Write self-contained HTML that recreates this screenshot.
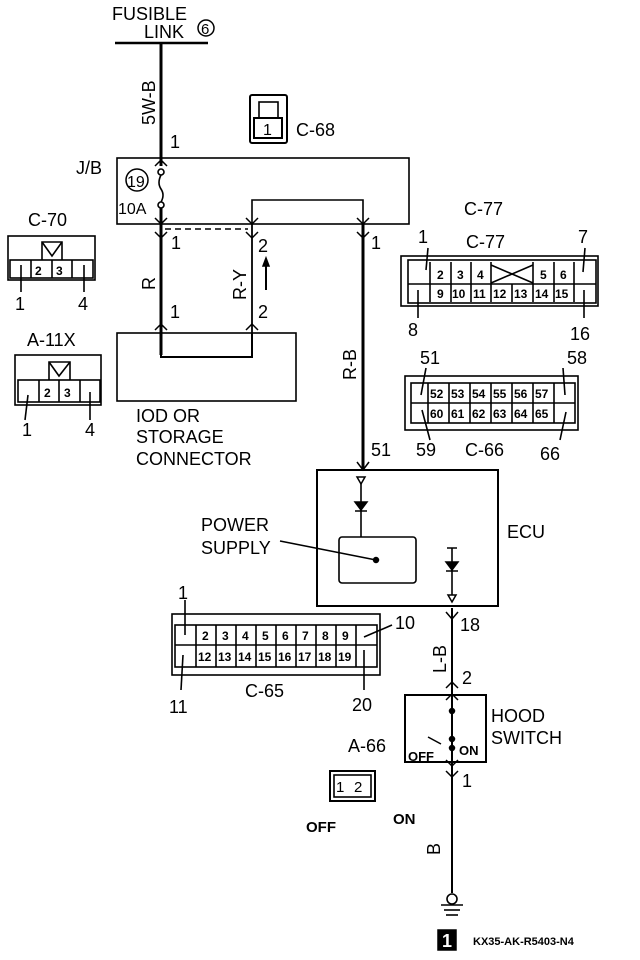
<!DOCTYPE html>
<html><head><meta charset="utf-8"><style>
html,body{margin:0;padding:0;background:#fff}
svg{display:block}
text{font-family:"Liberation Sans",sans-serif;fill:#000}
.l{font-size:18px}
.s{font-size:12px;font-weight:bold}
.b{font-weight:bold}
</style></head><body>
<svg width="640" height="960" viewBox="0 0 640 960" xmlns="http://www.w3.org/2000/svg">
<g fill="none" stroke="#000" stroke-width="1.6">
<line x1="115" y1="43" x2="208" y2="43" stroke-width="2.5"/>
<line x1="161" y1="43" x2="161" y2="166" stroke-width="3"/>
<rect x="117" y="158" width="292" height="66"/>
<circle cx="161" cy="172" r="3"/>
<circle cx="161" cy="205" r="3"/>
<path d="M161 175 q-4 8 0 14 q4 6 0 13"/>
<polyline points="252,224 252,200 363,200 363,224"/>
<line x1="161" y1="208" x2="161" y2="355" stroke-width="3"/>
<line x1="252" y1="224" x2="252" y2="355" stroke-width="1.8"/>
<line x1="363" y1="224" x2="363" y2="470" stroke-width="3"/>
<path d="M165 229 H248" stroke-dasharray="6,4"/>
<line x1="266" y1="290" x2="266" y2="260" stroke-width="2"/>
<rect x="117" y="333" width="179" height="68"/>
<polyline points="161,333 161,357 252,357 252,333" stroke-width="2"/>
<rect x="317" y="470" width="181" height="136" stroke-width="2"/>
<rect x="339" y="537" width="77" height="46" rx="3"/>
<line x1="361" y1="478" x2="361" y2="537"/>
<line x1="452" y1="548" x2="452" y2="598"/>
<line x1="280" y1="541" x2="376" y2="560"/>
<line x1="452" y1="608" x2="452" y2="893" stroke-width="2"/>
<rect x="405" y="695" width="81" height="67" stroke-width="2"/>
<circle cx="452" cy="899" r="5"/>
<line x1="441" y1="905" x2="463" y2="905"/>
<line x1="444" y1="910" x2="460" y2="910"/>
<line x1="446" y1="915" x2="458" y2="915"/>
<rect x="250" y="95" width="37" height="48" rx="2" stroke-width="2"/>
<rect x="259" y="102" width="19" height="16"/>
<rect x="254" y="118" width="28" height="20" stroke-width="2"/>
<rect x="8" y="236" width="87" height="44"/>
<rect x="10" y="260" width="83" height="18"/>
<line x1="31" y1="260" x2="31" y2="278"/><line x1="52" y1="260" x2="52" y2="278"/><line x1="72" y1="260" x2="72" y2="278"/>
<polyline points="42,260 42,242 62,242 62,260"/><path d="M42 242 L52 256 L62 242"/>
<line x1="21" y1="265" x2="21" y2="292"/><line x1="84" y1="265" x2="84" y2="292"/>
<rect x="15" y="355" width="86" height="50"/>
<rect x="18" y="380" width="82" height="22"/>
<line x1="39" y1="380" x2="39" y2="402"/><line x1="59" y1="380" x2="59" y2="402"/><line x1="80" y1="380" x2="80" y2="402"/>
<polyline points="49,380 49,362 70,362 70,380"/><path d="M49 362 L59 376 L70 362"/>
<line x1="28" y1="395" x2="25" y2="420"/><line x1="90" y1="392" x2="90" y2="420"/>
<rect x="401" y="256" width="197" height="50"/>
<rect x="408" y="260" width="188" height="43"/>
<line x1="408" y1="284" x2="596" y2="284"/>
<line x1="430" y1="262" x2="430" y2="302"/><line x1="451" y1="262" x2="451" y2="302"/><line x1="471" y1="262" x2="471" y2="302"/><line x1="491" y1="262" x2="491" y2="302"/><line x1="512" y1="284" x2="512" y2="302"/><line x1="533" y1="262" x2="533" y2="302"/><line x1="554" y1="262" x2="554" y2="302"/><line x1="574" y1="262" x2="574" y2="302"/>
<path d="M491 265 L533 283 M491 283 L533 265"/>
<line x1="418" y1="290" x2="418" y2="318"/><line x1="584" y1="290" x2="584" y2="318"/>
<line x1="426" y1="270" x2="428" y2="248"/><line x1="583" y1="272" x2="585" y2="248"/>
<rect x="405" y="376" width="173" height="54"/>
<rect x="411" y="383" width="164" height="40"/>
<line x1="411" y1="403" x2="575" y2="403"/>
<line x1="428" y1="383" x2="428" y2="423"/><line x1="449" y1="383" x2="449" y2="423"/><line x1="470" y1="383" x2="470" y2="423"/><line x1="491" y1="383" x2="491" y2="423"/><line x1="512" y1="383" x2="512" y2="423"/><line x1="533" y1="383" x2="533" y2="423"/><line x1="554" y1="383" x2="554" y2="423"/>
<line x1="421" y1="395" x2="426" y2="368"/><line x1="565" y1="395" x2="563" y2="368"/>
<line x1="422" y1="410" x2="430" y2="440"/><line x1="566" y1="412" x2="560" y2="440"/>
<rect x="172" y="614" width="208" height="61"/>
<rect x="175" y="625" width="202" height="42"/>
<line x1="175" y1="645" x2="377" y2="645"/>
<line x1="196" y1="625" x2="196" y2="667"/><line x1="216" y1="625" x2="216" y2="667"/><line x1="236" y1="625" x2="236" y2="667"/><line x1="256" y1="625" x2="256" y2="667"/><line x1="276" y1="625" x2="276" y2="667"/><line x1="296" y1="625" x2="296" y2="667"/><line x1="316" y1="625" x2="316" y2="667"/><line x1="336" y1="625" x2="336" y2="667"/><line x1="356" y1="625" x2="356" y2="667"/>
<line x1="185" y1="600" x2="185" y2="635"/><line x1="183" y1="655" x2="181" y2="690"/>
<line x1="364" y1="637" x2="392" y2="625"/><line x1="364" y1="650" x2="364" y2="690"/>
<rect x="330" y="771" width="45" height="30" stroke-width="2"/>
<rect x="334" y="775" width="37" height="22"/>
</g>
<g fill="#000" stroke="#000" stroke-width="1.5">
<path d="M155 166 L161 160 L167 166" fill="none"/>
<path d="M155 218 L161 224 L167 218 M246 218 L252 224 L258 218 M357 218 L363 224 L369 218 M155 232 L161 238 L167 232 M246 232 L252 238 L258 232 M357 232 L363 238 L369 232" fill="none"/>
<path d="M155 330 L161 324 L167 330 M246 330 L252 324 L258 330" fill="none"/>
<path d="M266 258 L263 266 L269 266 Z"/>
<path d="M357 462 L363 470 L369 462" fill="none"/>
<path d="M357 477 L365 477 L361 484 Z" fill="#fff"/>
<path d="M355 502 L367 502 L361 510 Z"/><line x1="355" y1="511" x2="367" y2="511"/>
<line x1="447" y1="548" x2="457" y2="548"/>
<path d="M446 562 L458 562 L452 570 Z"/><line x1="446" y1="571" x2="458" y2="571"/>
<path d="M448 595 L456 595 L452 602 Z" fill="#fff"/>
<path d="M446 612 L452 619 L458 612" fill="none"/>
<path d="M446 688 L452 682 L458 688 M446 700 L452 694 L458 700 M446 760 L452 766 L458 760 M446 771 L452 777 L458 771" fill="none"/>
<circle cx="452" cy="711" r="2.5"/><circle cx="452" cy="739" r="2.5"/><circle cx="452" cy="748" r="2.5"/>
<line x1="428" y1="737" x2="441" y2="744"/>
<circle cx="376" cy="560" r="2.5"/>
<rect x="438" y="930" width="18" height="20"/>
</g>
<text x="112" y="20" class="l">FUSIBLE</text>
<text x="144" y="38" class="l">LINK</text>
<circle cx="206" cy="28" r="8" fill="none" stroke="#000" stroke-width="1.5"/><text x="201" y="34" font-size="15">6</text>
<text x="155" y="125" class="l" transform="rotate(-90 155 125)">5W-B</text>
<text x="170" y="148" class="l">1</text>
<text x="263" y="135" font-size="16">1</text>
<text x="296" y="136" class="l">C-68</text>
<text x="76" y="174" class="l">J/B</text>
<circle cx="137" cy="180" r="11" fill="none" stroke="#000" stroke-width="1.5"/><text x="127" y="187" font-size="16">19</text>
<text x="118" y="214" font-size="16">10A</text>
<text x="171" y="249" class="l">1</text>
<text x="258" y="252" class="l">2</text>
<text x="371" y="249" class="l">1</text>
<text x="155" y="290" class="l" transform="rotate(-90 155 290)">R</text>
<text x="246" y="300" class="l" transform="rotate(-90 246 300)">R-Y</text>
<text x="170" y="318" class="l">1</text>
<text x="258" y="318" class="l">2</text>
<text x="356" y="380" class="l" transform="rotate(-90 356 380)">R-B</text>
<text x="136" y="422" class="l">IOD OR</text>
<text x="136" y="443" class="l">STORAGE</text>
<text x="136" y="465" class="l">CONNECTOR</text>
<text x="371" y="456" class="l">51</text>
<text x="28" y="226" class="l">C-70</text>
<text x="35" y="275" class="s">2</text><text x="56" y="275" class="s">3</text>
<text x="15" y="310" class="l">1</text><text x="78" y="310" class="l">4</text>
<text x="27" y="346" class="l">A-11X</text>
<text x="44" y="397" class="s">2</text><text x="64" y="397" class="s">3</text>
<text x="22" y="436" class="l">1</text><text x="85" y="436" class="l">4</text>
<text x="464" y="215" class="l">C-77</text>
<text x="466" y="248" class="l">C-77</text>
<text x="418" y="243" class="l">1</text><text x="578" y="243" class="l">7</text>
<text x="437" y="279" class="s">2</text><text x="457" y="279" class="s">3</text><text x="477" y="279" class="s">4</text><text x="540" y="279" class="s">5</text><text x="560" y="279" class="s">6</text>
<text x="437" y="298" class="s">9</text><text x="452" y="298" class="s">10</text><text x="473" y="298" class="s">11</text><text x="493" y="298" class="s">12</text><text x="514" y="298" class="s">13</text><text x="535" y="298" class="s">14</text><text x="555" y="298" class="s">15</text>
<text x="408" y="336" class="l">8</text><text x="570" y="340" class="l">16</text>
<text x="420" y="364" class="l">51</text><text x="567" y="364" class="l">58</text>
<text x="430" y="398" class="s">52</text><text x="451" y="398" class="s">53</text><text x="472" y="398" class="s">54</text><text x="493" y="398" class="s">55</text><text x="514" y="398" class="s">56</text><text x="535" y="398" class="s">57</text>
<text x="430" y="418" class="s">60</text><text x="451" y="418" class="s">61</text><text x="472" y="418" class="s">62</text><text x="493" y="418" class="s">63</text><text x="514" y="418" class="s">64</text><text x="535" y="418" class="s">65</text>
<text x="416" y="456" class="l">59</text><text x="465" y="456" class="l">C-66</text><text x="540" y="460" class="l">66</text>
<text x="507" y="538" class="l">ECU</text>
<text x="201" y="531" class="l">POWER</text>
<text x="201" y="554" class="l">SUPPLY</text>
<text x="178" y="599" class="l">1</text>
<text x="202" y="640" class="s">2</text><text x="222" y="640" class="s">3</text><text x="242" y="640" class="s">4</text><text x="262" y="640" class="s">5</text><text x="282" y="640" class="s">6</text><text x="302" y="640" class="s">7</text><text x="322" y="640" class="s">8</text><text x="342" y="640" class="s">9</text>
<text x="198" y="661" class="s">12</text><text x="218" y="661" class="s">13</text><text x="238" y="661" class="s">14</text><text x="258" y="661" class="s">15</text><text x="278" y="661" class="s">16</text><text x="298" y="661" class="s">17</text><text x="318" y="661" class="s">18</text><text x="338" y="661" class="s">19</text>
<text x="395" y="629" class="l">10</text>
<text x="169" y="713" class="l">11</text>
<text x="245" y="697" class="l">C-65</text>
<text x="352" y="711" class="l">20</text>
<text x="460" y="631" class="l">18</text>
<text x="446" y="673" class="l" transform="rotate(-90 446 673)">L-B</text>
<text x="462" y="684" class="l">2</text>
<text x="491" y="722" class="l">HOOD</text>
<text x="491" y="744" class="l">SWITCH</text>
<text x="408" y="761" font-size="13" class="b">OFF</text>
<text x="459" y="755" font-size="13" class="b">ON</text>
<text x="348" y="752" class="l">A-66</text>
<text x="336" y="792" font-size="15">1</text><text x="354" y="792" font-size="15">2</text>
<text x="462" y="787" class="l">1</text>
<text x="306" y="832" font-size="15" class="b">OFF</text>
<text x="393" y="824" font-size="15" class="b">ON</text>
<text x="440" y="855" class="l" transform="rotate(-90 440 855)">B</text>
<text x="442" y="947" font-size="18" class="b" style="fill:#fff">1</text>
<text x="473" y="945" font-size="11" class="b">KX35-AK-R5403-N4</text>
</svg>
</body></html>
